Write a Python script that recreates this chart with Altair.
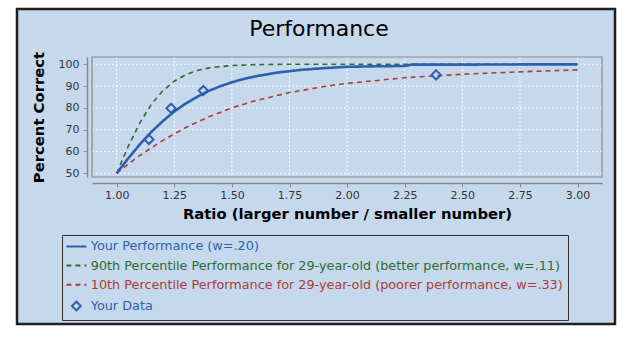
import altair as alt
import pandas as pd

# ---- data ----
S_BLUE = "Your Performance (w=.20)"
S_GREEN = "90th Percentile Performance for 29-year-old (better performance, w=.11)"
S_RED = "10th Percentile Performance for 29-year-old (poorer performance, w=.33)"
S_DATA = "Your Data"

ratio_blue = [1.00, 1.05, 1.10, 1.15, 1.20, 1.25, 1.30, 1.35, 1.40, 1.45, 1.50, 1.55,
              1.60, 1.70, 1.80, 1.90, 2.00, 2.10, 2.25, 2.28, 2.50, 2.75, 3.00]
pct_blue = [50, 56.8, 63.2, 68.9, 73.9, 78.3, 82.0, 85.1, 87.8, 89.9, 91.7, 93.2,
            94.4, 96.2, 97.4, 98.2, 98.8, 99.0, 99.2, 99.8, 99.8, 99.9, 99.9]

ratio_green = [1.00, 1.05, 1.10, 1.15, 1.20, 1.25, 1.30, 1.35, 1.40, 1.50, 1.60,
               1.75, 2.00, 2.50, 3.00]
pct_green = [50, 62.3, 73.0, 81.5, 87.8, 92.2, 95.2, 97.1, 98.3, 99.4, 99.8,
             100, 100, 100, 100]

ratio_red = [1.00, 1.05, 1.10, 1.20, 1.30, 1.40, 1.50, 1.60, 1.75, 1.90, 2.00,
             2.25, 2.50, 2.75, 3.00]
pct_red = [50, 54.2, 58.1, 65.1, 71.0, 75.9, 80.0, 83.2, 87.0, 89.8, 91.2,
           93.8, 95.4, 96.5, 97.4]

data_ratio = [1.14, 1.236, 1.376, 2.386]
data_pct = [65.5, 79.8, 87.9, 95.1]

x_ticks = [1.00, 1.25, 1.50, 1.75, 2.00, 2.25, 2.50, 2.75, 3.00]
y_ticks = [50, 60, 70, 80, 90, 100]

series_order = [S_BLUE, S_GREEN, S_RED, S_DATA]

# ---- tables ----
df_blue = pd.DataFrame({"ratio": ratio_blue, "pct": pct_blue, "series": S_BLUE})
df_dash = pd.concat([
    pd.DataFrame({"ratio": ratio_red, "pct": pct_red, "series": S_RED}),
    pd.DataFrame({"ratio": ratio_green, "pct": pct_green, "series": S_GREEN}),
])
df_pts = pd.DataFrame({"ratio": data_ratio, "pct": data_pct, "series": S_DATA})
df_xt = pd.DataFrame({"ratio": x_ticks})
df_yt = pd.DataFrame({"pct": y_ticks})
df_one = pd.DataFrame({"k": [0]})

W, H = 510, 120
PANEL = "#c6d9ec"
BLUE = "#2c5fae"
GREEN = "#2f6a2f"
RED = "#ad3a36"

FONT = "DejaVu Sans"

xscale = alt.Scale(domain=[0.893, 3.106], nice=False, zero=False)
yscale = alt.Scale(domain=[48.3, 103.3], nice=False, zero=False)

xaxis = alt.Axis(values=x_ticks, format=".2f", title="Ratio (larger number / smaller number)",
                 offset=6, grid=False, zindex=1, labelPadding=2, titlePadding=6)
yaxis = alt.Axis(values=y_ticks, format="d", title="Percent Correct",
                 offset=5, grid=False, zindex=1, labelPadding=4, titlePadding=12)

X = alt.X("ratio:Q", scale=xscale, axis=xaxis)
Y = alt.Y("pct:Q", scale=yscale, axis=yaxis)

color_scale = alt.Scale(domain=series_order, range=[BLUE, GREEN, RED, BLUE])
dash_scale = alt.Scale(domain=series_order, range=[[1, 0], [5, 4], [5, 4], [1, 0]])
shape_scale = alt.Scale(domain=series_order,
                        range=["M-2.5,0L2.5,0", "M-2.5,0L2.5,0", "M-2.5,0L2.5,0",
                               "M0,-1.1L1.1,0L0,1.1L-1.1,0Z"])

legend = alt.Legend(title=None, labelColor=alt.ExprRef("scale('color', datum.value)"))

# background panel (decoration)
panel = alt.Chart(df_one).mark_rect(fill=PANEL, stroke="#1e1e1e", strokeWidth=2.5).encode(
    x=alt.value(-75), x2=alt.value(523), y=alt.value(-48), y2=alt.value(267)
)

vgrid = alt.Chart(df_xt).mark_rule(color="white", strokeDash=[2, 2], strokeWidth=1, opacity=0.85).encode(x=X)
hgrid = alt.Chart(df_yt).mark_rule(color="white", strokeDash=[2, 2], strokeWidth=1, opacity=0.85).encode(y=Y)

frame = alt.Chart(df_one).mark_rect(fill=None, stroke="#8a8a8a", strokeWidth=1.2).encode(
    x=alt.value(0), x2=alt.value(W), y=alt.value(0), y2=alt.value(H)
)

dashed = alt.Chart(df_dash).mark_line(strokeWidth=1.6).encode(
    x=X, y=Y,
    color=alt.Color("series:N", scale=color_scale, legend=legend),
    strokeDash=alt.StrokeDash("series:N", scale=dash_scale, legend=legend),
    order="ratio:Q",
)
solid = alt.Chart(df_blue).mark_line(strokeWidth=2.6).encode(
    x=X, y=Y,
    color=alt.Color("series:N", scale=color_scale, legend=legend),
    strokeDash=alt.StrokeDash("series:N", scale=dash_scale, legend=legend),
    order="ratio:Q",
)
points = alt.Chart(df_pts).mark_point(filled=False, size=70, strokeWidth=2, opacity=1).encode(
    x=X, y=Y,
    color=alt.Color("series:N", scale=color_scale, legend=legend),
    shape=alt.Shape("series:N", scale=shape_scale, legend=legend),
)

chart = alt.layer(panel, vgrid, hgrid, frame, dashed, solid, points).properties(
    width=W, height=H,
    title=alt.TitleParams("Performance", anchor="middle", frame="group", dx=-28,
                          offset=-50, baseline="alphabetic", fontSize=22,
                          font=FONT, fontWeight="normal", color="#000"),
    autosize=alt.AutoSizeParams(type="none"),
    padding={"left": 92, "top": 57, "right": 25, "bottom": 160},
    background="white",
).configure_view(stroke=None, fill=None).configure_axis(
    labelFont=FONT, labelFontSize=11, labelColor="#333",
    titleFont=FONT, titleFontSize=14.8, titleFontWeight="bold", titleColor="#000",
    domainColor="#8a8a8a", domainWidth=1.5, tickColor="#8a8a8a", tickSize=4, tickWidth=1,
).configure_legend(
    orient="none", legendX=-30, legendY=178, padding=5, symbolOffset=3, labelOffset=8,
    rowPadding=5.2, labelFont=FONT, labelFontSize=12.8, labelLimit=1000,
    strokeColor="#333", symbolSize=64, symbolStrokeWidth=2, symbolFillColor="transparent",
)

chart.save("out.html", embed_options={"renderer": "svg", "actions": False})
